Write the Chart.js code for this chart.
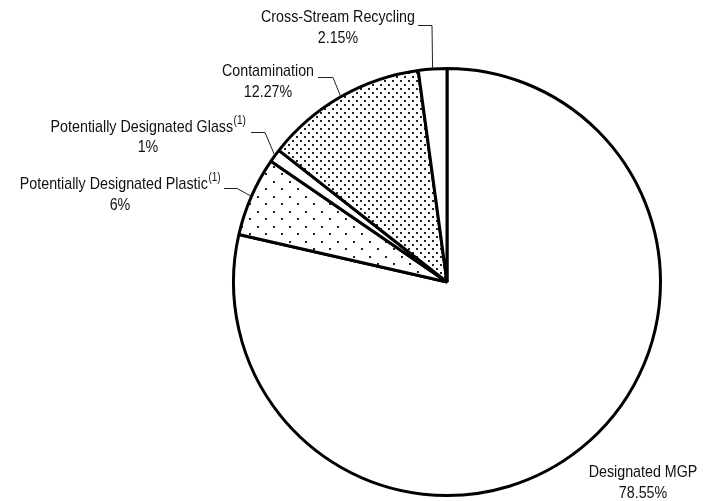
<!DOCTYPE html>
<html lang="en">
<head>
<meta charset="UTF-8">
<title>Material composition</title>
<style>
  body { margin: 0; background: #fff; }
  .chart-box { width: 704px; height: 501px; position: relative; }
</style>
</head>
<body>

<div class="chart-box">
  <canvas id="myChart"></canvas>
</div>

<script src="https://cdn.jsdelivr.net/npm/chart.js"></script>
<script>

// slice data, clockwise from 12 o'clock
const categories = [
  'Designated MGP',
  'Potentially Designated Plastic',
  'Potentially Designated Glass',
  'Contamination',
  'Cross-Stream Recycling'
];
const shares = [78.55, 6, 1, 12.27, 2.15];
const valueLabels = ['78.55%', '6%', '1%', '12.27%', '2.15%'];
const footnoteMarks = ['', '(1)', '(1)', '', ''];

// dot fills
function dotPattern(w, h, dots) {
  const c = document.createElement('canvas');
  c.width = w;
  c.height = h;
  const g = c.getContext('2d');
  g.fillStyle = '#fff';
  g.fillRect(0, 0, w, h);
  g.fillStyle = '#222';
  dots.forEach(d => g.fillRect(d[0], d[1], 2, 2));
  return g.createPattern(c, 'repeat');
}
const cv = document.getElementById('myChart');
const sparseDots = dotPattern(16, 15, [[1, 1], [9, 8]]);
const denseDots = dotPattern(8, 8, [[0, 0], [4, 4]]);
const fills = ['#fff', sparseDots, '#fff', denseDots, '#fff'];

// where each label sits: centre x, two baselines, leader elbow
const labelPos = [
  { x: 643, y1: 477, y2: 498 },
  { x: 120, y1: 189, y2: 210, lx0: 224, lx1: 237, ly: 188 },
  { x: 148, y1: 132, y2: 152, lx0: 251, lx1: 265, ly: 132 },
  { x: 268, y1: 75.5, y2: 96.5, lx0: 318, lx1: 333, ly: 77 },
  { x: 338, y1: 21.5, y2: 43, lx0: 418, lx1: 432, ly: 25 }
];

const SX = 0.84; // narrow face
function narrowWidth(ctx, s, font) {
  ctx.font = font;
  return ctx.measureText(s).width * SX;
}
function narrowText(ctx, s, x, y, font) {
  ctx.save();
  ctx.font = font;
  ctx.textAlign = 'left';
  ctx.textBaseline = 'alphabetic';
  ctx.translate(x, y);
  ctx.scale(SX, 1);
  ctx.fillText(s, 0, 0);
  ctx.restore();
}

const mainFont = '17px "Liberation Sans", Arial, sans-serif';
const supFont = '12px "Liberation Sans", Arial, sans-serif';

const sliceLabels = {
  id: 'sliceLabels',
  afterDraw(chart) {
    const ctx = chart.ctx;
    const arcs = chart.getDatasetMeta(0).data;
    ctx.save();
    ctx.fillStyle = '#111';
    categories.forEach((name, i) => {
      const p = labelPos[i];
      const w1 = narrowWidth(ctx, name, mainFont);
      const ws = footnoteMarks[i] ? narrowWidth(ctx, footnoteMarks[i], supFont) : 0;
      const left = p.x - (w1 + ws) / 2;
      narrowText(ctx, name, left, p.y1, mainFont);
      if (ws) narrowText(ctx, footnoteMarks[i], left + w1 + 0.5, p.y1 - 8, supFont);
      const w2 = narrowWidth(ctx, valueLabels[i], mainFont);
      narrowText(ctx, valueLabels[i], p.x - w2 / 2, p.y2, mainFont);

      if (p.lx0 !== undefined) {
        const a = arcs[i];
        const mid = (a.startAngle + a.endAngle) / 2;
        const ex = a.x + Math.cos(mid) * a.outerRadius;
        const ey = a.y + Math.sin(mid) * a.outerRadius;
        ctx.beginPath();
        ctx.strokeStyle = '#222';
        ctx.lineWidth = 1;
        ctx.moveTo(p.lx0, p.ly + 0.5);
        ctx.lineTo(p.lx1, p.ly + 0.5);
        ctx.lineTo(ex, ey);
        ctx.stroke();
      }
    });
    ctx.restore();
  }
};

new Chart(cv, {
  type: 'pie',
  data: {
    labels: categories,
    datasets: [{
      data: shares,
      backgroundColor: fills,
      borderColor: '#000',
      borderWidth: 3,
      borderJoinStyle: 'bevel'
    }]
  },
  options: {
    responsive: true,
    maintainAspectRatio: false,
    animation: false,
    events: [],
    layout: { padding: { left: 232, right: 42, top: 67, bottom: 4 } },
    plugins: {
      legend: { display: false },
      tooltip: { enabled: false }
    }
  },
  plugins: [sliceLabels]
});

</script>
</body>
</html>
